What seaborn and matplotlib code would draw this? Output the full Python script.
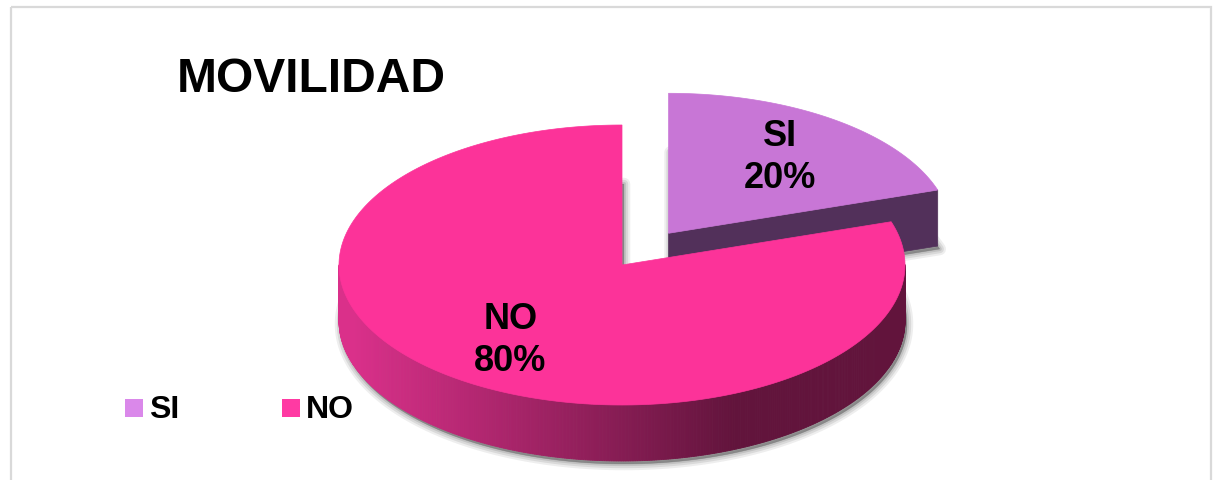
import numpy as np
import matplotlib
matplotlib.use("Agg")
import matplotlib.pyplot as plt
from matplotlib.patches import Polygon, Rectangle
import seaborn as sns

# Chart data
title = "MOVILIDAD"
categories = ["SI", "NO"]
values = [20, 80]
top_colors = ["#C876D6", "#FC3399"]
legend_colors = ["#DA88EA", "#FF3AA3"]
side_colors = ["#52305A", None]  # None -> shaded wall gradient

sns.set_theme(style="white")
plt.rcParams["font.family"] = ["Liberation Sans", "DejaVu Sans"]

W, H = 1213, 480
fig = plt.figure(figsize=(W / 100, H / 100), dpi=100)
ax = fig.add_axes([0, 0, 1, 1])
ax.set_xlim(0, W)
ax.set_ylim(H, 0)
ax.axis("off")

# 3-D pie geometry (screen pixels)
cx, cy = 622, 265
rx, ry = 283, 140
depth = 56
explode = [0.28, 0.0]
start_angle = 90
label_r = 0.67


def pt(c, theta_deg, dy=0.0):
    t = np.deg2rad(theta_deg)
    return (c[0] + rx * np.cos(t), c[1] - ry * np.sin(t) + dy)


def arc(c, t1, t2, n=300, dy=0.0):
    th = np.linspace(t1, t2, n)
    return [pt(c, t, dy) for t in th]


def wall_color(x):
    # light on the left, darker towards the front/right
    c_left = np.array([218, 48, 138]) / 255
    c_right = np.array([98, 20, 60]) / 255
    f = np.clip((x - 355) / (735 - 355), 0, 1)
    return tuple(c_left + (c_right - c_left) * f)


total = sum(values)
slices = []
cum = 0.0
for cat, v, e in zip(categories, values, explode):
    t2 = start_angle - cum / total * 360
    t1 = t2 - v / total * 360
    mid = np.deg2rad((t1 + t2) / 2)
    c = (cx + e * rx * np.cos(mid), cy - e * ry * np.sin(mid))
    slices.append((cat, v, t1, t2, mid, c))
    cum += v

# Soft floor shadows under every slice
for cat, v, t1, t2, mid, c in slices:
    base = [(c[0], c[1] + depth)] + arc(c, t1, t2, dy=depth)
    shifted = [(x + 2, y + 3) for x, y in base]
    for lw, a in [(9, 0.10), (6, 0.14), (3, 0.18), (0.5, 0.25)]:
        ax.add_patch(Polygon(shifted, closed=True, facecolor="#5a5a5a",
                             edgecolor="#5a5a5a", lw=lw, alpha=a,
                             joinstyle="round", zorder=1))

# Slices drawn back to front
order = sorted(range(len(slices)), key=lambda i: slices[i][5][1])
for z, i in enumerate(order):
    cat, v, t1, t2, mid, c = slices[i]
    zb = 2 + z * 10
    # radial face at t1 (visible when facing viewer)
    if np.cos(np.deg2rad(t1)) > 1e-6:
        p0 = c
        p1 = pt(c, t1)
        face = [p0, p1, (p1[0], p1[1] + depth), (p0[0], p0[1] + depth)]
        col = side_colors[i] if side_colors[i] else wall_color(p1[0])
        ax.add_patch(Polygon(face, closed=True, facecolor=col, edgecolor=col,
                             lw=0.5, zorder=zb))
    if np.cos(np.deg2rad(t2)) < -1e-6:
        p0 = c
        p1 = pt(c, t2)
        face = [p0, p1, (p1[0], p1[1] + depth), (p0[0], p0[1] + depth)]
        col = side_colors[i] if side_colors[i] else wall_color(p1[0])
        ax.add_patch(Polygon(face, closed=True, facecolor=col, edgecolor=col,
                             lw=0.5, zorder=zb))
    # outer wall: visible where sin(theta) < 0
    th = np.linspace(t1, t2, 600)
    for ta, tb in zip(th[:-1], th[1:]):
        tm = (ta + tb) / 2
        if np.sin(np.deg2rad(tm)) >= 0:
            continue
        pa, pb = pt(c, ta), pt(c, tb)
        quad = [pa, pb, (pb[0], pb[1] + depth), (pa[0], pa[1] + depth)]
        col = side_colors[i] if side_colors[i] else wall_color((pa[0] + pb[0]) / 2)
        ax.add_patch(Polygon(quad, closed=True, facecolor=col, edgecolor=col,
                             lw=0.6, zorder=zb + 1))
    # top face
    top = [c] + arc(c, t1, t2)
    ax.add_patch(Polygon(top, closed=True, facecolor=top_colors[i],
                         edgecolor=top_colors[i], lw=0.5, zorder=zb + 2))

# Data labels
for cat, v, t1, t2, mid, c in slices:
    lx = c[0] + label_r * rx * np.cos(mid)
    ly = c[1] - label_r * ry * np.sin(mid)
    pct = f"{v / total * 100:.0f}%"
    ax.text(lx, ly - 21, cat, ha="center", va="center", fontsize=26,
            fontweight="bold", color="black", zorder=50)
    ax.text(lx, ly + 21, pct, ha="center", va="center", fontsize=26,
            fontweight="bold", color="black", zorder=50)

# Title
ax.text(177, 92, title, ha="left", va="baseline", fontsize=34.5,
        fontweight="bold", color="black", zorder=50)

# Legend
legend_x = [125, 282]
for x0, cat, col in zip(legend_x, categories, legend_colors):
    ax.add_patch(Rectangle((x0, 399), 18, 18, facecolor=col, edgecolor="none",
                           zorder=50))
    ax.text(x0 + 24, 418, cat, ha="left", va="baseline", fontsize=23,
            fontweight="bold", color="black", zorder=50)

# Chart frame
ax.add_patch(Rectangle((11, 7), 1200, 520, facecolor="none",
                       edgecolor="#D9D9D9", lw=1.6, zorder=60, clip_on=False))

fig.savefig("out.png", dpi=100)
